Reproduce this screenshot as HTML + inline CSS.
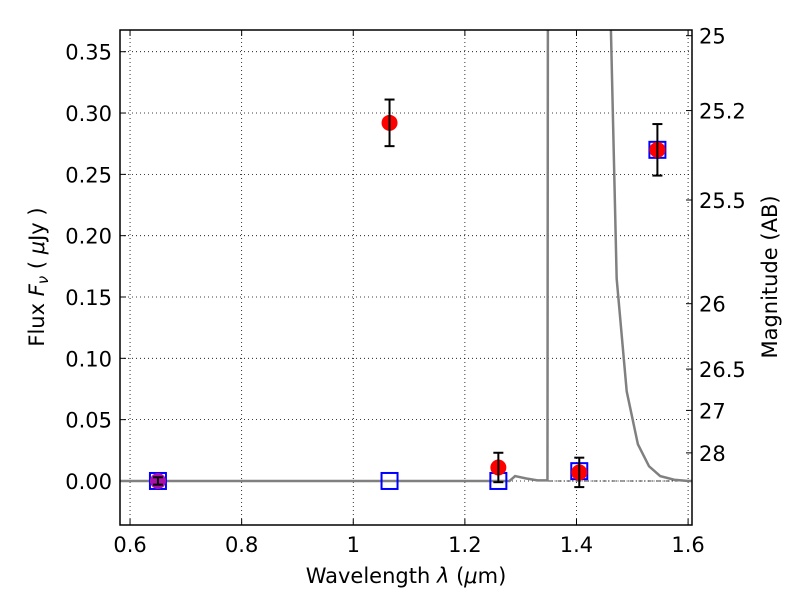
<!DOCTYPE html>
<html><head><meta charset="utf-8"><style>
body{margin:0;background:#fff;}
svg text{font-family:"DejaVu Sans","Liberation Sans",sans-serif;font-size:21px;fill:#000;}
</style></head><body>
<svg id="c" width="800" height="600" xmlns="http://www.w3.org/2000/svg"></svg>
<script>
const xTicks=[0.6,0.8,1.0,1.2,1.4,1.6];
const xTickLabels=["0.6","0.8","1","1.2","1.4","1.6"];
const yTicks=[0,0.05,0.10,0.15,0.20,0.25,0.30,0.35];
const yTickLabels=["0.00","0.05","0.10","0.15","0.20","0.25","0.30","0.35"];
const magTicks=[25,25.2,25.5,26,26.5,27,28];
const magLabels=["25","25.2","25.5","26","26.5","27","28"];
const redX=[1.065,1.26,1.405,1.545];
const redY=[0.292,0.011,0.007,0.270];
const redErr=[0.019,0.012,0.012,0.021];
const purpleX=[0.65];const purpleY=[0.0];const purpleErr=[0.003];
const sqX=[0.65,1.065,1.26,1.405,1.545];
const sqY=[0.0,0.0,0.0,0.008,0.270];
const specX=[0.582,1.28,1.29,1.31,1.33,1.348,1.349,1.455,1.472,1.49,1.51,1.53,1.55,1.575,1.6,1.607];
const specY=[0,0,0.004,0.002,0.0005,0.0005,0.5,0.5,0.165,0.073,0.030,0.012,0.004,0.001,0,0];
const L=120,R=692,T=30,B=525,xmin=0.582,xmax=1.607,ymin=-0.0359,ymax=0.3677;
const X=v=>L+(v-xmin)/(xmax-xmin)*(R-L);
const Y=v=>B-(v-ymin)/(ymax-ymin)*(B-T);
const svg=document.getElementById('c');const NS="http://www.w3.org/2000/svg";
function el(t,a,p){const e=document.createElementNS(NS,t);for(const k in a)e.setAttribute(k,a[k]);(p||svg).appendChild(e);return e;}
const clip=el('clipPath',{id:'cp'});el('rect',{x:L,y:T,width:R-L,height:B-T},clip);
xTicks.forEach((v,i)=>{const g=el('line',{x1:X(v),x2:X(v),y1:T,y2:B,stroke:'#000','stroke-width':0.8,'stroke-dasharray':'1,3'});

el('line',{x1:X(v),x2:X(v),y1:B,y2:B-6,stroke:'#000'});el('line',{x1:X(v),x2:X(v),y1:T,y2:T+6,stroke:'#000'});
const t=el('text',{x:X(v),y:B+27,'text-anchor':'middle'});t.textContent=xTickLabels[i];
});
yTicks.forEach((v,i)=>{const g=el('line',{x1:L,x2:R,y1:Y(v),y2:Y(v),stroke:'#000','stroke-width':0.8,'stroke-dasharray':'1,3'});

el('line',{x1:L,x2:L+6,y1:Y(v),y2:Y(v),stroke:'#000'});
const t=el('text',{x:L-8,y:Y(v)+8,'text-anchor':'end'});t.textContent=yTickLabels[i];
});
magTicks.forEach((m,i)=>{const f=Math.pow(10,(23.9-m)/2.5);const y=Y(f);
el('line',{x1:R,x2:R-6,y1:y,y2:y,stroke:'#000'});
const t=el('text',{x:R+7,y:y+8});t.textContent=magLabels[i];
});
el('line',{x1:X(1.35),x2:R,y1:Y(0),y2:Y(0),stroke:'#000','stroke-width':0.8,'stroke-dasharray':'4,2,1,2'});
const sp=el('polyline',{points:specX.map((x,i)=>X(x)+','+Y(specY[i])).join(' '),fill:'none',stroke:'#808080','stroke-width':2.5,'clip-path':'url(#cp)'});

sqX.forEach((x,i)=>{const r=el('rect',{x:X(x)-8,y:Y(sqY[i])-8,width:16,height:16,fill:'none',stroke:'#0000ff','stroke-width':2});
});
function pts(xs,ys,es,col,nm){xs.forEach((x,i)=>{const c=el('circle',{cx:X(x),cy:Y(ys[i]),r:8,fill:col});

const y1=Y(ys[i]+es[i]),y2=Y(ys[i]-es[i]);
el('line',{x1:X(x),x2:X(x),y1:y1,y2:y2,stroke:'#000','stroke-width':2});
el('line',{x1:X(x)-5,x2:X(x)+5,y1:y1,y2:y1,stroke:'#000','stroke-width':2});
el('line',{x1:X(x)-5,x2:X(x)+5,y1:y2,y2:y2,stroke:'#000','stroke-width':2});});}
pts(purpleX,purpleY,purpleErr,'#aa11aa','purple-flux-point');
pts(redX,redY,redErr,'#ff0000','observed-flux-point');
el('rect',{x:L,y:T,width:R-L,height:B-T,fill:'none',stroke:'#000','stroke-width':1.5});
let t=el('text',{x:(L+R)/2,y:583,'text-anchor':'middle'});t.innerHTML='Wavelength  <tspan font-style="italic">λ</tspan> (<tspan font-style="italic">μ</tspan>m)';

t=el('text',{x:0,y:0,'text-anchor':'middle',transform:'translate(44,277) rotate(-90)'});t.innerHTML='Flux  <tspan font-style="italic">F</tspan><tspan font-style="italic" font-size="15" dy="4">ν</tspan><tspan dy="-4">  ( </tspan><tspan font-style="italic">μ</tspan>Jy )';

t=el('text',{x:0,y:0,'text-anchor':'middle',transform:'translate(777,277) rotate(-90)'});t.textContent='Magnitude (AB)';

</script>
</body></html>
